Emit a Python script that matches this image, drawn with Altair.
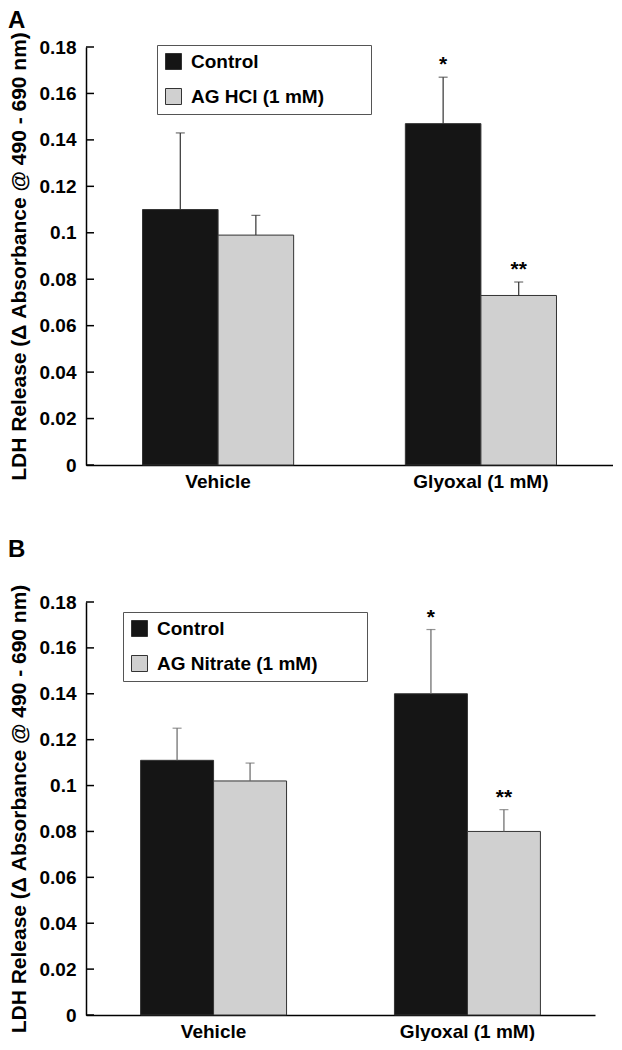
import altair as alt
import pandas as pd

FONT = "Liberation Sans"

groups = ["Vehicle", "Glyoxal (1 mM)"]
series_a = ["Control", "AG HCl (1 mM)"]
series_b = ["Control", "AG Nitrate (1 mM)"]
# order: Vehicle-Control, Vehicle-AG, Glyoxal-Control, Glyoxal-AG
mean_a = [0.110, 0.099, 0.147, 0.073]
err_a = [0.033, 0.0085, 0.020, 0.0058]
mean_b = [0.111, 0.102, 0.140, 0.080]
err_b = [0.014, 0.0078, 0.028, 0.0095]
stars = ["", "", "*", "**"]
y_ticks = [0, 0.02, 0.04, 0.06, 0.08, 0.1, 0.12, 0.14, 0.16, 0.18]
y_title = "LDH Release (\u0394 Absorbance @ 490 - 690 nm)"


def panel_df(series, means, errs):
    rows = []
    k = 0
    for g in groups:
        for s in series:
            rows.append(dict(group=g, series=s, mean=means[k],
                             top=means[k] + errs[k], star=stars[k]))
            k += 1
    return pd.DataFrame(rows)


def panel(letter, series, means, errs, width, height, lx, ly, ltp, err_color, toff):
    df = panel_df(series, means, errs)
    tick_df = pd.DataFrame({"v": y_ticks})
    yscale = alt.Scale(domain=[0, 0.18], nice=False, zero=True)
    yaxis = alt.Axis(values=y_ticks, format="~g", title=y_title, ticks=False,
                     grid=False, domainColor="black", domainWidth=1.5,
                     labelFontSize=19, labelFontWeight="bold", labelColor="black",
                     labelFont=FONT, labelPadding=10, titleFont=FONT,
                     titleFontSize=21, titleFontWeight="bold", titleColor="black",
                     titlePadding=10)
    x = alt.X("group:N", sort=groups,
              scale=alt.Scale(paddingInner=0.425, paddingOuter=0.215),
              axis=alt.Axis(title=None, labelAngle=0, ticks=False,
                            domainColor="black", domainWidth=1.5,
                            labelFontSize=19, labelFontWeight="bold",
                            labelFont=FONT, labelColor="black", labelPadding=7))
    xo = alt.XOffset("series:N", sort=series,
                     scale=alt.Scale(paddingInner=0, paddingOuter=0))
    color = alt.Color(
        "series:N", sort=series,
        scale=alt.Scale(domain=series, range=["#151515", "#d0d0d0"]),
        legend=alt.Legend(title="MM", titleOrient="right", titleOpacity=0,
                          titleFontSize=19, titlePadding=ltp,
                          orient="none", legendX=lx, legendY=ly,
                          strokeColor="#555", fillColor="white", padding=7,
                          symbolType="square", symbolSize=256,
                          symbolStrokeColor="#333", symbolStrokeWidth=1,
                          labelFontSize=19, labelFontWeight="bold",
                          labelFont=FONT, labelColor="black", rowPadding=14,
                          labelOffset=8, labelLimit=400))
    base = alt.Chart(df)
    bars = base.mark_bar(stroke="#333", strokeWidth=1).encode(
        x=x, xOffset=xo, y=alt.Y("mean:Q", scale=yscale, axis=yaxis), color=color)
    rules = base.mark_rule(color=err_color, strokeWidth=1.2).encode(
        x=x, xOffset=xo, y=alt.Y("mean:Q", scale=yscale, axis=yaxis), y2="top:Q")
    caps = base.mark_tick(color=err_color, size=9, thickness=1.2).encode(
        x=x, xOffset=xo, y=alt.Y("top:Q", scale=yscale, axis=yaxis))
    text = base.mark_text(dy=-6, baseline="alphabetic", fontSize=21,
                          fontWeight="bold", font=FONT, color="black").encode(
        x=x, xOffset=xo, y=alt.Y("top:Q", scale=yscale, axis=yaxis), text="star:N")
    ticks = alt.Chart(tick_df).mark_rule(color="black", strokeWidth=1.5).encode(
        y=alt.Y("v:Q", scale=yscale, axis=yaxis), x=alt.value(0), x2=alt.value(8))
    return alt.layer(bars, rules, caps, text, ticks).properties(
        width=width, height=height,
        title=alt.TitleParams(letter, anchor="start", frame="bounds", fontSize=24,
                              fontWeight="bold", font=FONT, color="black", offset=toff))


pa = panel("A", series_a, mean_a, err_a, 527, 418, 71, -2, 8, "#333", -1)
pb = panel("B", series_b, mean_b, err_b, 509, 413, 37, 10, 11, "#666", 22)

chart = alt.vconcat(pa, pb, spacing=47, padding=0).resolve_scale(
    color="independent", xOffset="independent", x="independent", y="independent"
).configure(font=FONT).configure_view(stroke=None)

chart.save("out.html", embed_options={"renderer": "svg", "actions": False})
